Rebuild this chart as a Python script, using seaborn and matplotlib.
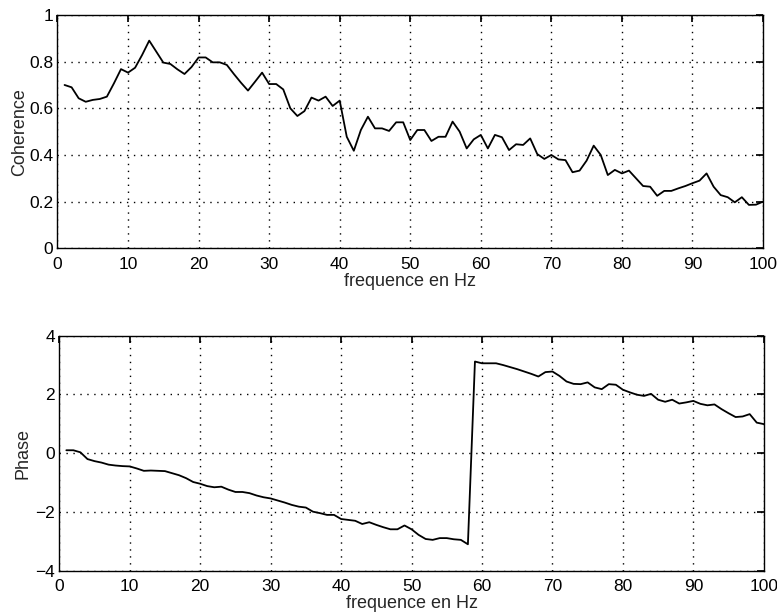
import numpy as np
import pandas as pd
import matplotlib
matplotlib.use("Agg")
import matplotlib.pyplot as plt
import seaborn as sns

# frequency axis (Hz)
freq = list(range(1, 101))

coherence = [
    0.70, 0.69, 0.643, 0.628, 0.636, 0.64, 0.65, 0.707, 0.768, 0.753,
    0.774, 0.829, 0.89, 0.843, 0.796, 0.79, 0.767, 0.747, 0.777, 0.818,
    0.818, 0.797, 0.797, 0.786, 0.747, 0.71, 0.676, 0.714, 0.753, 0.704,
    0.704, 0.681, 0.60, 0.567, 0.588, 0.646, 0.633, 0.65, 0.61, 0.633,
    0.478, 0.418, 0.507, 0.564, 0.514, 0.514, 0.503, 0.54, 0.54, 0.464,
    0.507, 0.507, 0.46, 0.478, 0.478, 0.543, 0.50, 0.428, 0.467, 0.486,
    0.428, 0.486, 0.476, 0.421, 0.446, 0.443, 0.471, 0.404, 0.383, 0.40,
    0.381, 0.378, 0.326, 0.333, 0.376, 0.44, 0.40, 0.314, 0.336, 0.321,
    0.333, 0.30, 0.267, 0.264, 0.225, 0.246, 0.246, 0.257, 0.267, 0.279,
    0.29, 0.321, 0.264, 0.228, 0.219, 0.197, 0.219, 0.186, 0.187, 0.20,
]

phase = [
    0.10, 0.10, 0.03, -0.20, -0.27, -0.32, -0.39, -0.42, -0.44, -0.45,
    -0.52, -0.60, -0.59, -0.60, -0.61, -0.68, -0.75, -0.85, -0.98, -1.04,
    -1.12, -1.16, -1.14, -1.24, -1.32, -1.32, -1.36, -1.44, -1.50, -1.54,
    -1.61, -1.68, -1.76, -1.82, -1.85, -1.99, -2.04, -2.10, -2.10, -2.24,
    -2.27, -2.30, -2.41, -2.35, -2.44, -2.52, -2.59, -2.59, -2.46, -2.59,
    -2.78, -2.92, -2.95, -2.89, -2.89, -2.93, -2.95, -3.10, 3.12, 3.06,
    3.06, 3.06, 3.00, 2.93, 2.86, 2.78, 2.70, 2.61, 2.76, 2.78,
    2.63, 2.44, 2.36, 2.35, 2.41, 2.24, 2.18, 2.35, 2.33, 2.16,
    2.07, 1.99, 1.95, 2.02, 1.82, 1.75, 1.82, 1.69, 1.73, 1.78,
    1.68, 1.63, 1.66, 1.50, 1.36, 1.23, 1.25, 1.33, 1.04, 0.99,
]

df = pd.DataFrame({"freq": freq, "Coherence": coherence, "Phase": phase})

sns.set_theme(style="white")
plt.rcParams["font.family"] = ["Liberation Sans", "DejaVu Sans"]

fig = plt.figure(figsize=(7.77, 6.14), dpi=100)
ax1 = fig.add_axes([0.074, 0.5956, 0.908, 0.38])
ax2 = fig.add_axes([0.0763, 0.0705, 0.9067, 0.3828])

sns.lineplot(data=df, x="freq", y="Coherence", ax=ax1, color="black", linewidth=1.3)
sns.lineplot(data=df, x="freq", y="Phase", ax=ax2, color="black", linewidth=1.3)

for ax, ylim, yticks in [(ax1, (0, 1), np.arange(0, 1.01, 0.2)),
                         (ax2, (-4, 4), np.arange(-4, 4.1, 2))]:
    ax.set_xlim(0, 100)
    ax.set_ylim(*ylim)
    ax.set_xticks(range(0, 101, 10))
    ax.set_yticks(yticks)
    ax.grid(True, color="black", linestyle=(0, (1, 4)), linewidth=1.0)
    ax.tick_params(direction="in", top=True, right=True, length=5,
                   labelsize=12.5, color="black", labelcolor="black")
    ax.tick_params(axis="x", pad=6)
    ax.tick_params(axis="y", pad=3)
    for s in ax.spines.values():
        s.set_color("black")
        s.set_linewidth(1.0)
    ax.set_xlabel("frequence en Hz", fontsize=13, labelpad=1)

ax1.set_yticklabels(["0", "0.2", "0.4", "0.6", "0.8", "1"])
ax1.set_ylabel("Coherence", fontsize=13, labelpad=1)
ax2.set_ylabel("Phase", fontsize=13, labelpad=3)

fig.savefig("out.png", dpi=100)
